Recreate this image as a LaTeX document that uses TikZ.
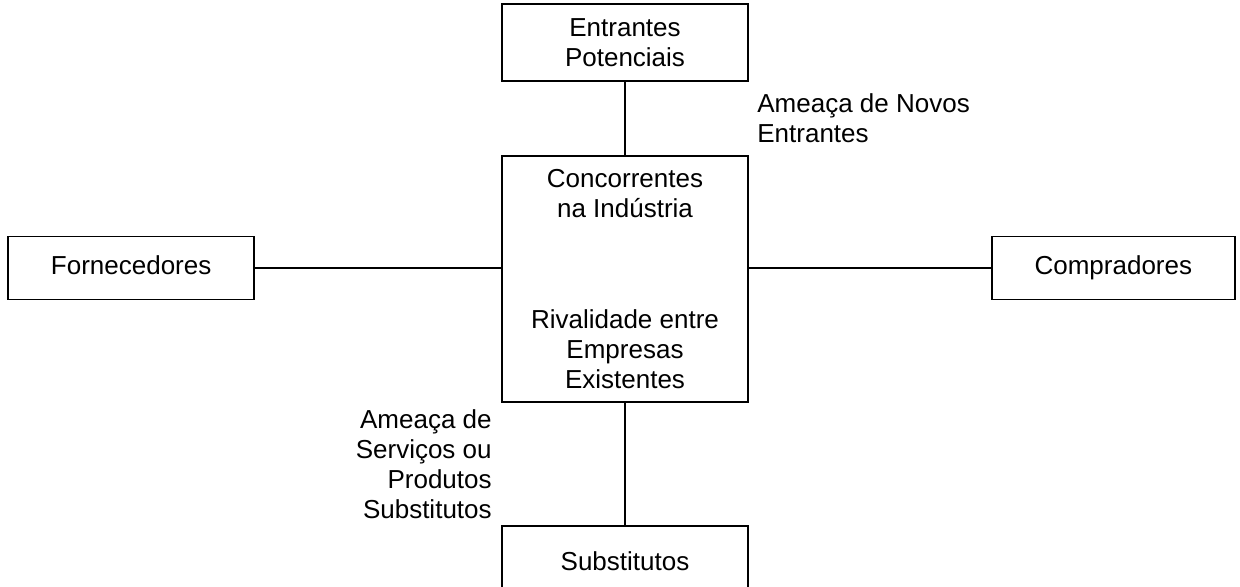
\documentclass[tikz,border=0pt]{standalone}
\usepackage{fontspec}
\setmainfont{Liberation Sans}
\usetikzlibrary{
  positioning,
  calc}
\tikzset{
  %% force : a box for one of the competitive forces
  force/.style={
    rectangle,
    draw=black,
    line width=1.1pt,
    minimum width=4.92cm,
    inner sep=0pt,
    align=center
  },
  %% oneline : a force box with a single line of text
  oneline/.style={
    force,
    text height=0.72em,
    text depth=0.21em
  },
  %% threat : text beside a connection
  threat/.style={
    inner sep=0pt
  },
  %% link : connection between two forces
  link/.style={black, line width=1.1pt}
}

\begin{document}
\begin{tikzpicture}
  [x=0.02cm,
  y=-0.02cm,
  align=center,
  node distance=1.46cm and 4.92cm]
  \fontsize{14.8pt}{17pt}\selectfont
  \useasboundingbox (0,0) rectangle (1240,587);

  %% central box
  \node (rival) [force, minimum height=4.92cm] at (625,279) {%
    Concorrentes\\
    na Indústria\\[46pt]
    Rivalidade entre\\
    Empresas\\
    Existentes};

  %% height of the side connections
  \coordinate (side_w) at ($(rival.west) + (0,-11)$);
  \coordinate (side_e) at ($(rival.east) + (0,-11)$);

  %% outer forces
  \node (entrants) [above=of rival, force, minimum height=1.54cm]{%
    Entrantes\\
    Potenciais};

  \node (suppliers) [left=of side_w, oneline, minimum height=1.26cm]{%
    Fornecedores};

  \node (buyers) [right=4.84cm of side_e, oneline, minimum height=1.26cm,
    minimum width=4.86cm]{%
    Compradores};

  \node (substitutes) [below=2.44cm of rival, oneline, minimum height=1.52cm]{%
    Substitutos};


  %% Connections
  \draw [link] (entrants) -- (rival);
  \draw [link] (suppliers) -- (side_w);
  \draw [link] (side_e) -- (buyers);
  \draw [link] (rival) -- (substitutes);


  %% Threats
  \node (new_threat) [threat, anchor=west, align=left] at
    ($(entrants.south)!0.5!(rival.north) + (132,0)$){%
    Ameaça de Novos\\
    Entrantes};

  \node (sub_threat) [threat, anchor=east, align=right] at
    ($(rival.south)!0.5!(substitutes.north) - (133,0)$){%
    Ameaça de\\
    Serviços ou\\
    Produtos\\
    Substitutos};

\end{tikzpicture}
\end{document}
